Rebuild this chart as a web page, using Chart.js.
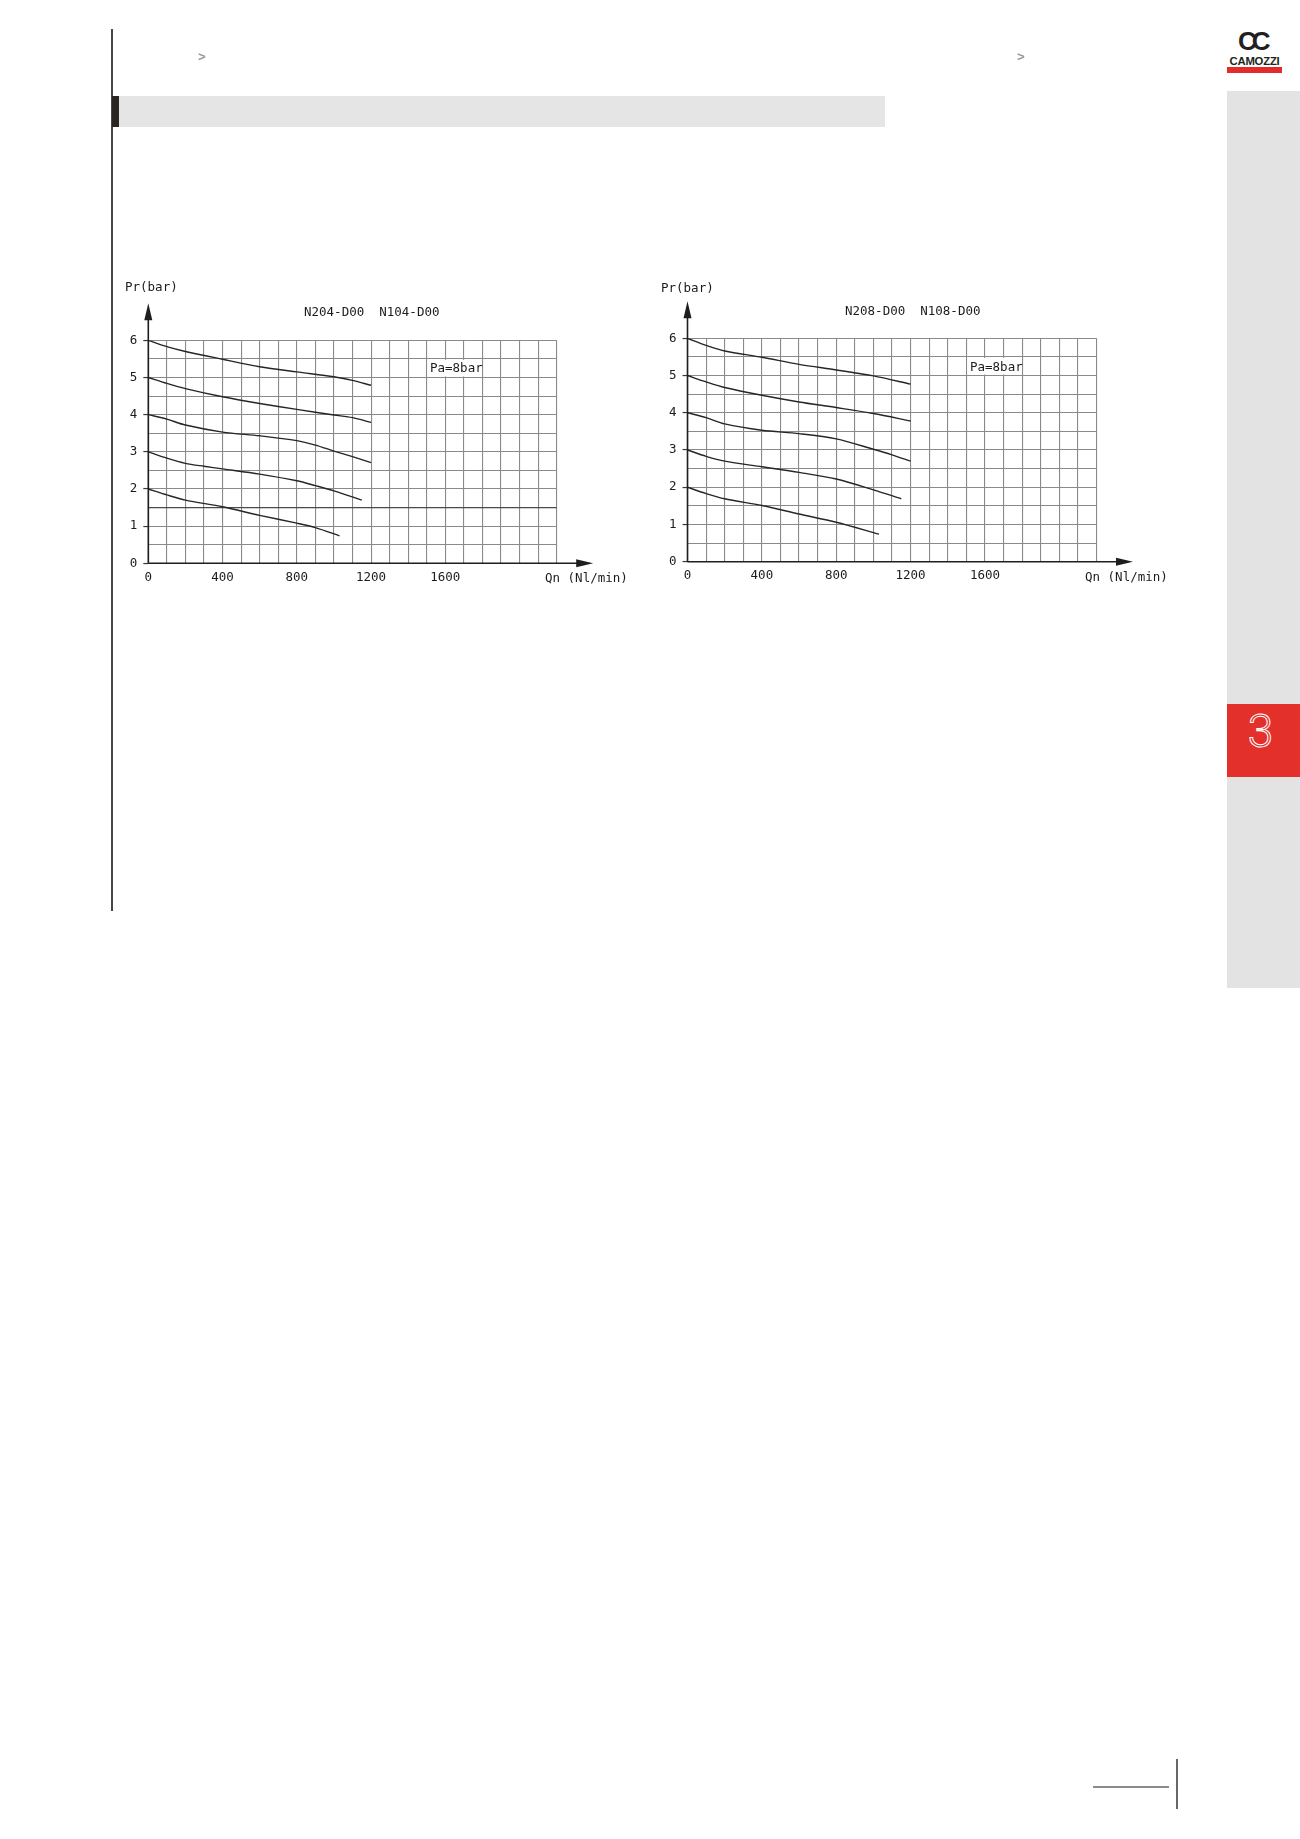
<!DOCTYPE html>
<html>
<head>
<meta charset="utf-8">
<script src="https://cdn.jsdelivr.net/npm/chart.js@4.4.1/dist/chart.umd.min.js"></script>
<style>
  body { margin: 0; width: 1300px; height: 1839px; background: #fff; position: relative; overflow: hidden; }
  .abs { position: absolute; }
  .lbl { position: absolute; z-index: 2; font-family: "DejaVu Sans Mono", monospace; font-size: 12.5px; line-height: 14px; color: #1c1c1c; white-space: pre; }
  canvas { position: absolute; z-index: 1; }
</style>
</head>
<body>

<!-- page frame -->
<div class="abs" style="left:111px;top:29px;width:2px;height:882px;background:#4a4542"></div>
<div class="abs" style="left:198px;top:49px;font:bold 13px 'Liberation Sans';color:#9a9a9a">&gt;</div>
<div class="abs" style="left:1017px;top:49px;font:bold 13px 'Liberation Sans';color:#9a9a9a">&gt;</div>
<div class="abs" style="left:113px;top:96px;width:772px;height:31px;background:#e5e5e5"></div>
<div class="abs" style="left:112px;top:96px;width:7px;height:31px;background:#2b2521"></div>

<!-- logo -->
<div class="abs" style="left:1238px;top:26px;font:900 26px 'Liberation Sans';letter-spacing:-5px;color:#231f20">CC</div>
<div class="abs" style="left:1226px;top:55px;width:57px;text-align:center;font:bold 11.3px 'Liberation Sans';letter-spacing:-0.2px;color:#231f20">CAMOZZI</div>
<div class="abs" style="left:1227px;top:67px;width:55px;height:6px;background:#e32b2b"></div>

<!-- side tab -->
<div class="abs" style="left:1227px;top:91px;width:73px;height:897px;background:#e3e3e3"></div>
<div class="abs" style="left:1227px;top:704px;width:73px;height:73px;background:#e3302a"></div>
<div class="abs" style="left:1227px;top:704px;width:67px;height:73px;line-height:73px;text-align:center;font:300 46px 'Roboto';color:transparent;-webkit-text-stroke:1px #fff">3</div>

<!-- footer -->
<div class="abs" style="left:1093px;top:1786px;width:76px;height:2px;background:#8f8a87"></div>
<div class="abs" style="left:1176px;top:1759px;width:2px;height:50px;background:#6b6663"></div>

<!-- chart labels -->
<div class="lbl" style="left:125px;top:280px">Pr(bar)</div>
<div class="lbl" style="left:304px;top:305px">N204-D00  N104-D00</div>
<div class="lbl" style="left:430px;top:361px">Pa=8bar</div>
<div class="lbl" style="left:545px;top:571px">Qn (Nl/min)</div>

<div class="lbl" style="left:661px;top:281px">Pr(bar)</div>
<div class="lbl" style="left:845px;top:304px">N208-D00  N108-D00</div>
<div class="lbl" style="left:970px;top:360px">Pa=8bar</div>
<div class="lbl" style="left:1085px;top:570px">Qn (Nl/min)</div>

<canvas id="chartA" width="540" height="320" style="left:100px;top:280px;width:540px;height:320px"></canvas>
<canvas id="chartB" width="540" height="320" style="left:640px;top:280px;width:540px;height:320px"></canvas>

<script>
// tick labels
const xLabels = [0, 400, 800, 1200, 1600];
const yLabels = [0, 1, 2, 3, 4, 5, 6];
// grid cells cleared behind the "Pa=8bar" note: [q from, q to, p low, p high]
const noteCell = [1500, 1800, 5.0, 5.5];

// N204-D00 / N104-D00 : Qn (Nl/min) vs Pr (bar), Pa = 8 bar
const qA6 = [0, 100, 200, 400, 600, 800, 1000, 1100, 1200];
const pA6 = [6.0, 5.83, 5.70, 5.49, 5.29, 5.15, 5.02, 4.92, 4.79];
const qA5 = [0, 100, 200, 400, 600, 800, 1000, 1100, 1200];
const pA5 = [5.0, 4.84, 4.70, 4.48, 4.30, 4.14, 3.99, 3.92, 3.79];
const qA4 = [0, 100, 200, 400, 600, 800, 900, 1000, 1100, 1200];
const pA4 = [4.0, 3.88, 3.72, 3.53, 3.43, 3.30, 3.18, 3.02, 2.87, 2.71];
const qA3 = [0, 100, 200, 300, 400, 600, 800, 900, 1000, 1150];
const pA3 = [3.0, 2.83, 2.69, 2.61, 2.54, 2.40, 2.22, 2.09, 1.95, 1.70];
const qA2 = [0, 100, 200, 400, 600, 800, 900, 1030];
const pA2 = [2.0, 1.84, 1.70, 1.52, 1.29, 1.08, 0.96, 0.74];

// N208-D00 / N108-D00
const qB6 = [0, 100, 200, 400, 600, 800, 1000, 1200];
const pB6 = [6.0, 5.81, 5.66, 5.49, 5.30, 5.15, 4.99, 4.77];
const qB5 = [0, 100, 200, 400, 600, 800, 1000, 1200];
const pB5 = [5.0, 4.83, 4.68, 4.47, 4.29, 4.14, 3.98, 3.78];
const qB4 = [0, 100, 200, 400, 600, 800, 1000, 1100, 1200];
const pB4 = [4.0, 3.87, 3.70, 3.53, 3.44, 3.30, 3.02, 2.87, 2.70];
const qB3 = [0, 100, 200, 400, 600, 800, 1000, 1150];
const pB3 = [3.0, 2.83, 2.70, 2.55, 2.40, 2.22, 1.93, 1.69];
const qB2 = [0, 100, 200, 400, 600, 800, 1030];
const pB2 = [2.0, 1.83, 1.69, 1.51, 1.28, 1.06, 0.74];

const curvesA = [[qA6, pA6], [qA5, pA5], [qA4, pA4], [qA3, pA3], [qA2, pA2]];
const curvesB = [[qB6, pB6], [qB5, pB5], [qB4, pB4], [qB3, pB3], [qB2, pB2]];

const tickFont = { family: 'DejaVu Sans Mono', size: 12.5 };
const gridGray = '#8a8a8a';

// white box behind the Pa note, then axis lines with arrow heads
const axisArrows = {
  id: 'axisArrows',
  beforeDatasetsDraw(chart) {
    const xs = chart.scales.x, ys = chart.scales.y, c = chart.ctx;
    const x0 = xs.getPixelForValue(noteCell[0]) + 1, x1 = xs.getPixelForValue(noteCell[1]) - 1;
    const y0 = ys.getPixelForValue(noteCell[3]) + 1, y1 = ys.getPixelForValue(noteCell[2]) - 1;
    c.save();
    c.fillStyle = '#fff';
    c.fillRect(x0, y0, x1 - x0, y1 - y0);
    c.restore();
  },
  afterDraw(chart) {
    const a = chart.chartArea, c = chart.ctx;
    c.save();
    c.strokeStyle = '#1e1e1e';
    c.fillStyle = '#1e1e1e';
    c.lineWidth = 1.6;
    c.beginPath();
    c.moveTo(a.left, a.bottom);
    c.lineTo(a.left, a.top - 30);
    c.moveTo(a.left, a.bottom);
    c.lineTo(a.right + 30, a.bottom);
    c.stroke();
    // up arrow
    c.beginPath();
    c.moveTo(a.left, a.top - 37);
    c.lineTo(a.left - 4, a.top - 20);
    c.lineTo(a.left + 4, a.top - 20);
    c.closePath();
    c.fill();
    // right arrow
    c.beginPath();
    c.moveTo(a.right + 36.5, a.bottom);
    c.lineTo(a.right + 19.5, a.bottom - 4);
    c.lineTo(a.right + 19.5, a.bottom + 4);
    c.closePath();
    c.fill();
    c.restore();
  }
};

function makeChart(id, curves, pad, darkLines) {
  const datasets = curves.map(function (cv) {
    return {
      data: cv[0].map(function (q, i) { return { x: q, y: cv[1][i] }; }),
      borderColor: '#262626',
      borderWidth: 1.4,
      pointRadius: 0,
      tension: 0.3,
      fill: false
    };
  });
  return new Chart(document.getElementById(id), {
    type: 'line',
    data: { datasets: datasets },
    options: {
      responsive: false,
      animation: false,
      layout: { padding: pad },
      plugins: { legend: { display: false }, tooltip: { enabled: false } },
      scales: {
        x: {
          type: 'linear', min: 0, max: 2200,
          afterFit: function (s) { s.height = 25; },
          border: { display: false },
          grid: { color: gridGray, lineWidth: 1.1, drawTicks: false },
          ticks: {
            stepSize: 100, autoSkip: false, maxRotation: 0, padding: 7,
            color: '#1c1c1c', font: tickFont,
            callback: function (v) { return xLabels.indexOf(v) >= 0 ? String(v) : ''; }
          }
        },
        y: {
          type: 'linear', min: 0, max: 6,
          afterFit: function (s) { s.width = 40; },
          border: { display: false },
          grid: {
            drawTicks: true,
            tickLength: 5,
            tickWidth: 1.2,
            tickColor: function (ctx) { return yLabels.indexOf(ctx.tick.value) >= 0 ? '#3a3a3a' : 'rgba(0,0,0,0)'; },
            color: function (ctx) { return darkLines.indexOf(ctx.tick.value) >= 0 ? '#4a4a4a' : gridGray; },
            lineWidth: function (ctx) { return darkLines.indexOf(ctx.tick.value) >= 0 ? 1.3 : 1.1; }
          },
          ticks: {
            stepSize: 0.5, autoSkip: false, padding: 6,
            color: '#1c1c1c', font: tickFont,
            callback: function (v) { return yLabels.indexOf(v) >= 0 ? String(v) : ''; }
          }
        }
      }
    },
    plugins: [axisArrows]
  });
}

makeChart('chartA', curvesA, { left: 8.3, right: 83.3, top: 60.3, bottom: 11.7 }, [1.5]);
makeChart('chartB', curvesB, { left: 7.5, right: 83.5, top: 58.3, bottom: 13.3 }, []);
</script>
</body>
</html>
